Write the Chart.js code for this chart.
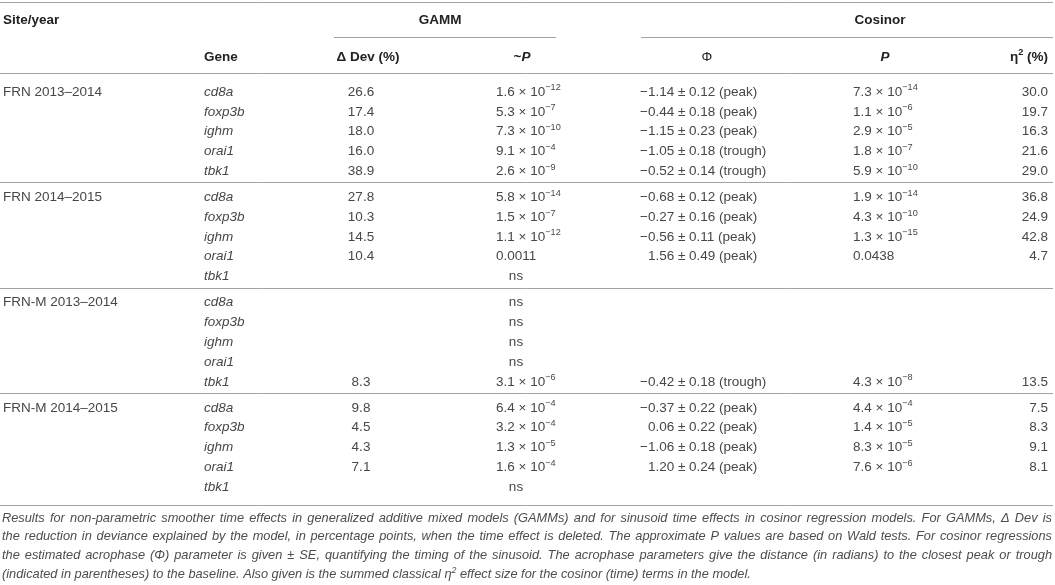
<!DOCTYPE html>
<html>
<head>
<meta charset="utf-8">
<title>GAMM and cosinor time effects</title>
<script src="https://cdn.jsdelivr.net/npm/chart.js@4.4.1/dist/chart.umd.min.js"></script>
<style>
  html, body { margin: 0; padding: 0; background: #fff; }
  #wrap { width: 1055px; height: 585px; position: relative; }
</style>
</head>
<body>
<div id="wrap"><canvas id="tbl"></canvas></div>
<script>
// --- table values ---
const sites = ['FRN 2013–2014', 'FRN 2014–2015', 'FRN-M 2013–2014', 'FRN-M 2014–2015'];
const genes = ['cd8a', 'foxp3b', 'ighm', 'orai1', 'tbk1'];

// one entry per site x gene (site-major), null = blank cell
const devPct = [26.6, 17.4, 18.0, 16.0, 38.9,
                27.8, 10.3, 14.5, 10.4, null,
                null, null, null, null, 8.3,
                9.8, 4.5, 4.3, 7.1, null];
const gammP  = ['1.6 × 10^{−12}', '5.3 × 10^{−7}', '7.3 × 10^{−10}', '9.1 × 10^{−4}', '2.6 × 10^{−9}',
                '5.8 × 10^{−14}', '1.5 × 10^{−7}', '1.1 × 10^{−12}', '0.0011', 'ns',
                'ns', 'ns', 'ns', 'ns', '3.1 × 10^{−6}',
                '6.4 × 10^{−4}', '3.2 × 10^{−4}', '1.3 × 10^{−5}', '1.6 × 10^{−4}', 'ns'];
const phi    = [-1.14, -0.44, -1.15, -1.05, -0.52,
                -0.68, -0.27, -0.56, 1.56, null,
                null, null, null, null, -0.42,
                -0.37, 0.06, -1.06, 1.20, null];
const phiSE  = [0.12, 0.18, 0.23, 0.18, 0.14,
                0.12, 0.16, 0.11, 0.49, null,
                null, null, null, null, 0.18,
                0.22, 0.22, 0.18, 0.24, null];
const phiType = ['peak', 'peak', 'peak', 'trough', 'trough',
                 'peak', 'peak', 'peak', 'peak', null,
                 null, null, null, null, 'trough',
                 'peak', 'peak', 'peak', 'peak', null];
const cosP   = ['7.3 × 10^{−14}', '1.1 × 10^{−6}', '2.9 × 10^{−5}', '1.8 × 10^{−7}', '5.9 × 10^{−10}',
                '1.9 × 10^{−14}', '4.3 × 10^{−10}', '1.3 × 10^{−15}', '0.0438', null,
                null, null, null, null, '4.3 × 10^{−8}',
                '4.4 × 10^{−4}', '1.4 × 10^{−5}', '8.3 × 10^{−5}', '7.6 × 10^{−6}', null];
const eta2   = [30.0, 19.7, 16.3, 21.6, 29.0,
                36.8, 24.9, 42.8, 4.7, null,
                null, null, null, null, 13.5,
                7.5, 8.3, 9.1, 8.1, null];

const captionLines = [
  'Results for non-parametric smoother time effects in generalized additive mixed models (GAMMs) and for sinusoid time effects in cosinor regression models. For GAMMs, Δ Dev is',
  'the reduction in deviance explained by the model, in percentage points, when the time effect is deleted. The approximate P values are based on Wald tests. For cosinor regressions',
  'the estimated acrophase (Φ) parameter is given ± SE, quantifying the timing of the sinusoid. The acrophase parameters give the distance (in radians) to the closest peak or trough',
  '(indicated in parentheses) to the baseline. Also given is the summed classical η^{2} effect size for the cosinor (time) terms in the model.'
];

// --- layout (page units = px of the 1055x585 page) ---
const FONT = '"Liberation Sans", Arial, Helvetica, sans-serif';
const BODY = '#474747';
const HEAD = '#222';
const RULE = '#a3a3a3';

const firstRow = 92, rowStep = 19.8, groupStep = 105.3;
const rowY = (g, r) => firstRow + g * groupStep + r * rowStep;
const head1Y = 20, head2Y = 57;

const col = {
  site:  { x: 3,    align: 'left' },
  gene:  { x: 204,  align: 'left', italic: true },
  dev:   { x: 361,  align: 'center' },
  gammP: { x: 496,  align: 'left', nsX: 516 },
  phi:   { x: 640,  align: 'left' },
  cosP:  { x: 853,  align: 'left' },
  eta:   { x: 1048, align: 'right' }
};

const fmt1 = v => v.toFixed(1);
const fmtPhi = i => (phi[i] < 0 ? '−' : '') + Math.abs(phi[i]).toFixed(2) +
  ' ± ' + phiSE[i].toFixed(2) + ' (' + phiType[i] + ')';

// build a text dataset: one point per non-blank cell
function cellSet(label, c, values, toText, extra) {
  const data = [];
  values.forEach((v, i) => {
    if (v === null || v === undefined) return;
    const g = Math.floor(i / genes.length), r = i % genes.length;
    const pt = { x: c.x, y: rowY(g, r), text: toText(v, i) };
    if (extra) Object.assign(pt, extra(v, i));
    data.push(pt);
  });
  return textSet(label, data, { size: 13.5, color: BODY, align: c.align, italic: !!c.italic });
}

function textSet(label, data, style) {
  return { label, data, textStyle: style, showLine: false, pointRadius: 0, pointHoverRadius: 0 };
}

function ruleSet(y, x0, x1) {
  return { label: 'rule', data: [{ x: x0, y }, { x: x1, y }], showLine: true,
           borderColor: RULE, borderWidth: 1, pointRadius: 0, pointHoverRadius: 0 };
}

const siteCells = sites.map((s, g) => ({ x: col.site.x, y: rowY(g, 0), text: s }));
const geneVals = sites.flatMap(() => genes);

const headerData = [
  { x: 3,    y: head1Y, text: 'Site/year' },
  { x: 440,  y: head1Y, text: 'GAMM', align: 'center' },
  { x: 880,  y: head1Y, text: 'Cosinor', align: 'center' },
  { x: 204,  y: head2Y, text: 'Gene' },
  { x: 368,  y: head2Y, text: 'Δ Dev (%)', align: 'center' },
  { x: 522,  y: head2Y, text: '~*P*', align: 'center' },
  { x: 707,  y: head2Y, text: 'Φ', align: 'center', bold: false },
  { x: 885,  y: head2Y, text: '*P*', align: 'center' },
  { x: 1048, y: head2Y, text: 'η^{2} (%)', align: 'right' }
];

// first three caption lines are justified to the full width
const captionData = captionLines.map((t, i) => ({
  x: 2, y: 518 + i * 18.7, text: t, justify: i < 3 ? 1050 : 0
}));

const lastRow = rowY(sites.length - 1, genes.length - 1);
const datasets = [
  ruleSet(2.5, 0, 1053),
  ruleSet(37.5, 334, 556),
  ruleSet(37.5, 641, 1053),
  ruleSet(73.5, 0, 1053),
  ...[0, 1, 2].map(g => ruleSet(Math.round(rowY(g, 4) + 11) + 0.5, 0, 1053)),
  ruleSet(Math.round(lastRow + 18) + 0.5, 0, 1053),
  textSet('header', headerData, { size: 13.5, color: HEAD, align: 'left', bold: true }),
  textSet('site', siteCells, { size: 13.5, color: BODY, align: 'left' }),
  cellSet('gene', col.gene, geneVals, v => v),
  cellSet('dev', col.dev, devPct, fmt1),
  cellSet('gammP', col.gammP, gammP, v => v,
          v => v === 'ns' ? { x: col.gammP.nsX, align: 'center' } : null),
  cellSet('phi', col.phi, phi, (v, i) => fmtPhi(i), v => v >= 0 ? { pad: '−' } : null),
  cellSet('cosP', col.cosP, cosP, v => v),
  cellSet('eta', col.eta, eta2, fmt1),
  textSet('caption', captionData, { size: 12.8, color: '#4d4d4d', align: 'left', italic: true })
];

// --- rich text: ^{..} superscript, *..* italic ---
function parseRich(str) {
  const out = [];
  str.split(/(\^\{[^}]*\}|\*[^*]+\*)/).forEach(tok => {
    if (!tok) return;
    if (tok.startsWith('^{')) out.push({ t: tok.slice(2, -1), sup: true });
    else if (tok.length > 2 && tok[0] === '*' && tok[tok.length - 1] === '*') out.push({ t: tok.slice(1, -1), it: true });
    else out.push({ t: tok });
  });
  return out;
}

function runFont(run, st) {
  const size = run.sup ? st.size * 0.68 : st.size;
  return (st.italic || run.it ? 'italic ' : '') + (st.bold ? 'bold ' : '') + size + 'px ' + FONT;
}

function drawRich(ctx, pt, st) {
  ctx.save();
  ctx.fillStyle = st.color;
  ctx.textBaseline = 'middle';
  ctx.textAlign = 'left';

  // plain justified line: spread the slack over the word gaps
  if (pt.justify) {
    ctx.font = runFont({}, st);
    const words = pt.text.split(' ');
    const widths = words.map(w => ctx.measureText(w).width);
    const used = widths.reduce((a, b) => a + b, 0);
    const gap = (pt.justify - used) / (words.length - 1);
    let cx = pt.px;
    words.forEach((w, k) => { ctx.fillText(w, cx, pt.py); cx += widths[k] + gap; });
    ctx.restore();
    return;
  }

  const runs = parseRich(pt.text);
  let w = 0;
  runs.forEach(r => { ctx.font = runFont(r, st); r.w = ctx.measureText(r.t).width; w += r.w; });
  let x = pt.px;
  if (pt.pad) { ctx.font = runFont({}, st); x += ctx.measureText(pt.pad).width; }
  const align = pt.align || st.align;
  if (align === 'center') x -= w / 2;
  else if (align === 'right') x -= w;
  let cx = x;
  runs.forEach(r => {
    ctx.font = runFont(r, st);
    ctx.fillText(r.t, cx, pt.py + (r.sup ? -st.size * 0.3 : 0));
    cx += r.w;
  });
  ctx.restore();
}

const tableText = {
  id: 'tableText',
  afterDatasetsDraw(chart) {
    const ctx = chart.ctx;
    chart.data.datasets.forEach((ds, di) => {
      if (!ds.textStyle) return;
      const meta = chart.getDatasetMeta(di);
      meta.data.forEach((el, i) => {
        const raw = ds.data[i];
        const st = Object.assign({}, ds.textStyle);
        if (raw.bold === false) st.bold = false;
        drawRich(ctx, { text: raw.text, px: el.x, py: el.y, align: raw.align,
                        pad: raw.pad, justify: raw.justify }, st);
      });
    });
  }
};

new Chart(document.getElementById('tbl'), {
  type: 'scatter',
  data: { datasets },
  options: {
    responsive: true,
    maintainAspectRatio: false,
    animation: false,
    events: [],
    layout: { padding: 0 },
    scales: {
      x: { type: 'linear', min: 0, max: 1055, display: false },
      y: { type: 'linear', min: 0, max: 585, reverse: true, display: false }
    },
    plugins: { legend: { display: false }, tooltip: { enabled: false } }
  },
  plugins: [tableText]
});
</script>
</body>
</html>
